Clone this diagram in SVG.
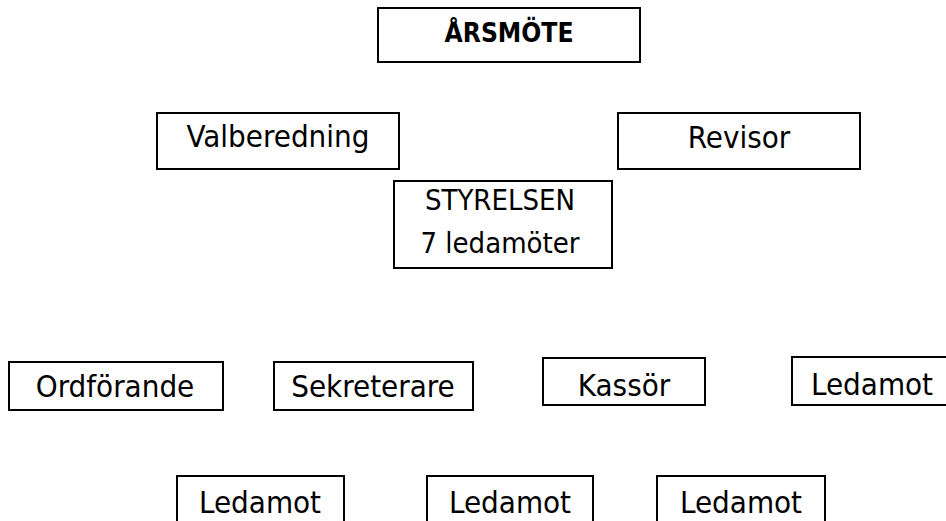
<svg xmlns="http://www.w3.org/2000/svg" width="946" height="521" viewBox="0 0 946 521">
<style>
rect{fill:#fff;stroke:#000;stroke-width:2}
text{font-family:"DejaVu Sans Condensed","DejaVu Sans",sans-serif;font-stretch:condensed;font-size:31px;fill:#000;text-anchor:middle}
.b{font-weight:bold;font-size:27px}
.s{font-size:29px}
</style>
<rect x="0" y="0" width="946" height="521" style="stroke:none"/>
<g id="connectors"/>
<g id="arsmote"><rect x="378" y="8" width="262" height="54"/><text class="b" x="509" y="42" textLength="129" lengthAdjust="spacingAndGlyphs">ÅRSMÖTE</text></g>
<g id="valberedning"><rect x="157" y="113" width="242" height="56"/><text x="278" y="147">Valberedning</text></g>
<g id="revisor"><rect x="618" y="113" width="242" height="56"/><text x="739" y="148">Revisor</text></g>
<g id="styrelsen"><rect x="394" y="181" width="218" height="87"/><text class="s" x="500" y="210">STYRELSEN</text><text class="s" x="500" y="253">7 ledamöter</text></g>
<g id="ordforande"><rect x="9" y="362" width="214" height="48"/><text x="115" y="397">Ordförande</text></g>
<g id="sekreterare"><rect x="274" y="362" width="199" height="48"/><text x="373" y="397">Sekreterare</text></g>
<g id="kassor"><rect x="543" y="358" width="162" height="47"/><text x="624" y="396">Kassör</text></g>
<g id="ledamot1"><rect x="792" y="357" width="160" height="48"/><text x="872" y="395">Ledamot</text></g>
<g id="ledamot2"><rect x="177" y="476" width="167" height="60"/><text x="260" y="513">Ledamot</text></g>
<g id="ledamot3"><rect x="427" y="476" width="166" height="60"/><text x="510" y="513">Ledamot</text></g>
<g id="ledamot4"><rect x="657" y="476" width="168" height="60"/><text x="741" y="513">Ledamot</text></g>
</svg>
